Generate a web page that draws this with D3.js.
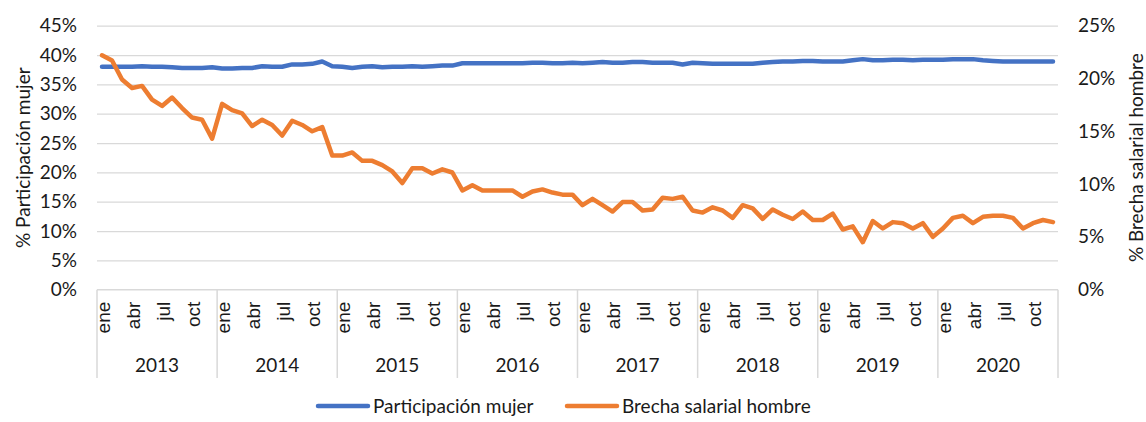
<!DOCTYPE html>
<html><head><meta charset="utf-8">
<script src="https://cdn.jsdelivr.net/npm/d3@7"></script>
<style>
body{margin:0;background:#fff;}
svg{display:block;font-family:"Lato","Open Sans",sans-serif;}
</style></head>
<body><svg id="chart" width="1146" height="422"></svg>
<script>
const monthNames = ["ene","feb","mar","abr","may","jun","jul","ago","sep","oct","nov","dic"];
const years = [2013,2014,2015,2016,2017,2018,2019,2020];
const leftTicks = [0,0.05,0.10,0.15,0.20,0.25,0.30,0.35,0.40,0.45];
const rightTicks = [0,0.05,0.10,0.15,0.20,0.25];
const seriesNames = ["Participación mujer","Brecha salarial hombre"];
const participacion = [
 38.0,38.0,38.0,38.0,38.1,38.0,38.0,37.9,37.8,37.8,37.8,37.9,
 37.7,37.7,37.8,37.8,38.1,38.0,38.0,38.4,38.4,38.5,38.9,38.1,
 38.0,37.8,38.0,38.1,37.9,38.0,38.0,38.1,38.0,38.1,38.2,38.2,
 38.6,38.6,38.6,38.6,38.6,38.6,38.6,38.7,38.7,38.6,38.6,38.7,
 38.6,38.7,38.8,38.7,38.7,38.8,38.8,38.7,38.7,38.7,38.4,38.7,
 38.6,38.5,38.5,38.5,38.5,38.5,38.7,38.8,38.9,38.9,39.0,39.0,
 38.9,38.9,38.9,39.1,39.3,39.1,39.1,39.2,39.2,39.1,39.2,39.2,
 39.2,39.3,39.3,39.3,39.1,39.0,38.9,38.9,38.9,38.9,38.9,38.9];
const brecha = [
 22.2,21.7,19.9,19.1,19.3,18.0,17.4,18.2,17.2,16.3,16.1,14.3,
 17.6,17.0,16.7,15.5,16.1,15.6,14.6,16.0,15.6,15.0,15.4,12.7,
 12.7,13.0,12.2,12.2,11.8,11.2,10.1,11.5,11.5,11.0,11.4,11.1,
 9.4,9.9,9.4,9.4,9.4,9.4,8.8,9.3,9.5,9.2,9.0,9.0,
 8.0,8.6,8.0,7.4,8.3,8.3,7.5,7.6,8.7,8.6,8.8,7.5,
 7.3,7.8,7.5,6.8,8.0,7.7,6.7,7.6,7.1,6.7,7.4,6.6,
 6.6,7.2,5.7,6.0,4.5,6.5,5.8,6.4,6.3,5.8,6.3,5.0,
 5.8,6.8,7.0,6.3,6.9,7.0,7.0,6.8,5.8,6.3,6.6,6.4];
const colors = ["#4472C4","#ED7D31"];

const svg = d3.select("#chart");
const pL = 97, pR = 1058, pT = 25.7, pB = 289.7;
const fs = 19;
const idx = d3.range(years.length*12);
const x = d3.scaleBand().domain(idx).range([pL,pR]).padding(0);
const cx = i => x(i) + x.bandwidth()/2;
const yL = d3.scaleLinear().domain([0,0.45]).range([pB,pT]);
const yR = d3.scaleLinear().domain([0,0.25]).range([pB,pT]);
const pct = d3.format(".0%");

// gridlines
const grid = svg.append("g").attr("transform",`translate(${pL},0)`)
  .call(d3.axisLeft(yL).tickValues(leftTicks.slice(1)).tickSize(-(pR-pL)).tickFormat(""));
grid.select(".domain").remove();
grid.selectAll("line").attr("stroke","#d9d9d9").attr("stroke-width",1.2);

// left labels
const gl = svg.append("g").attr("transform",`translate(${pL-20},0)`)
  .call(d3.axisLeft(yL).tickValues(leftTicks).tickSize(0).tickPadding(0).tickFormat(pct));
gl.select(".domain").remove();
gl.selectAll("text").attr("font-size",fs).attr("fill","#1a1a1a").attr("font-family","Lato");

// right labels
const gr = svg.append("g").attr("transform",`translate(${pR+20},0)`)
  .call(d3.axisRight(yR).tickValues(rightTicks).tickSize(0).tickPadding(0).tickFormat(pct));
gr.select(".domain").remove();
gr.selectAll("text").attr("font-size",fs).attr("fill","#1a1a1a").attr("font-family","Lato");

// axis titles
svg.append("text").attr("transform",`translate(22,${(pT+pB)/2}) rotate(-90)`)
  .attr("text-anchor","middle").attr("dominant-baseline","central")
  .attr("font-size",fs).attr("fill","#1a1a1a").text("% Participación mujer");
svg.append("text").attr("transform",`translate(1135,${(pT+pB)/2}) rotate(-90)`)
  .attr("text-anchor","middle").attr("dominant-baseline","central")
  .attr("font-size",fs).attr("fill","#1a1a1a").text("% Brecha salarial hombre");

// x axis baseline and year separators
svg.append("line").attr("x1",pL).attr("x2",pR).attr("y1",pB).attr("y2",pB)
  .attr("stroke","#d9d9d9").attr("stroke-width",1.5);
const sepIdx = d3.range(years.length+1);
svg.append("g").selectAll("line").data(sepIdx).join("line")
  .attr("x1",k => k<years.length ? x(k*12) : pR)
  .attr("x2",k => k<years.length ? x(k*12) : pR)
  .attr("y1",pB).attr("y2",378)
  .attr("stroke","#d9d9d9").attr("stroke-width",1.5);

// month labels
const gx = svg.append("g").attr("transform",`translate(0,${pB})`)
  .call(d3.axisBottom(x).tickValues(idx.filter(i => i%3===0)).tickSize(0)
    .tickFormat(i => monthNames[i%12]));
gx.select(".domain").remove();
gx.selectAll("text").attr("font-size",fs).attr("fill","#1a1a1a")
  .attr("transform","rotate(-90)").attr("text-anchor","end")
  .attr("x",-12).attr("y",1).attr("dy","0.35em");

// year labels
svg.append("g").selectAll("text").data(years).join("text")
  .attr("x",(d,k) => (x(k*12) + (k<years.length-1 ? x((k+1)*12) : pR))/2)
  .attr("y",365).attr("dy","0.35em").attr("text-anchor","middle")
  .attr("font-size",fs).attr("fill","#1a1a1a").text(d => d);

// lines
const lineL = d3.line().x((d,i)=>cx(i)).y(d=>yL(d/100));
const lineR = d3.line().x((d,i)=>cx(i)).y(d=>yR(d/100));
svg.append("path").datum(participacion).attr("d",lineL).attr("fill","none")
  .attr("stroke",colors[0]).attr("stroke-width",4.5).attr("stroke-linejoin","round").attr("stroke-linecap","round");
svg.append("path").datum(brecha).attr("d",lineR).attr("fill","none")
  .attr("stroke",colors[1]).attr("stroke-width",4.5).attr("stroke-linejoin","round").attr("stroke-linecap","round");

// legend
const legX = [318, 567];
const leg = svg.append("g").selectAll("g").data(seriesNames).join("g")
  .attr("transform",(d,i)=>`translate(${legX[i]},406)`);
leg.append("line").attr("x1",0).attr("x2",50).attr("y1",0).attr("y2",0)
  .attr("stroke",(d,i)=>colors[i]).attr("stroke-width",4.5).attr("stroke-linecap","round");
leg.append("text").attr("x",55).attr("y",0).attr("dy","0.35em")
  .attr("font-size",fs).attr("fill","#1a1a1a").text(d=>d);
</script></body></html>
